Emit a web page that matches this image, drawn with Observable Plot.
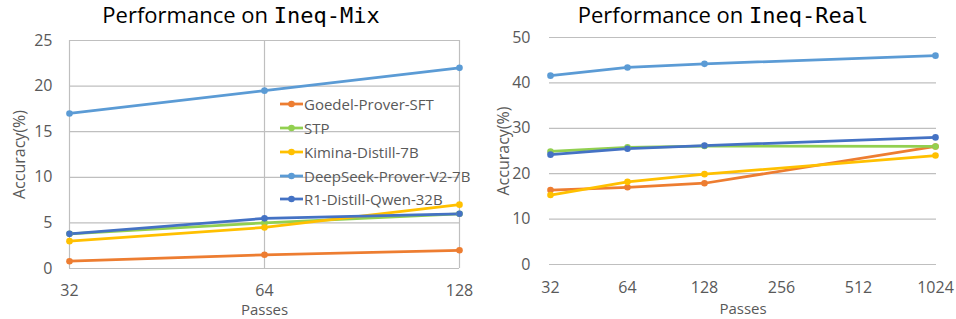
<!DOCTYPE html>
<html><head><meta charset="utf-8">
<script src="https://cdn.jsdelivr.net/npm/d3@7"></script>
<script src="https://cdn.jsdelivr.net/npm/@observablehq/plot@0.6"></script>
<style>
body{margin:0;background:#fff;font-family:"Open Sans",sans-serif;}
#wrap{position:relative;width:956px;height:319px;overflow:hidden;background:#fff}
.panel{position:absolute;top:0;height:319px}
.title{position:absolute;top:0;left:0;right:0;height:28px;line-height:28px;font-size:22px;color:#000;white-space:nowrap;text-align:center}
.mono{font-family:"DejaVu Sans Mono",monospace;font-size:22px}
.chart{position:absolute;top:20px;left:0;overflow:visible}
.legend{position:absolute;left:0;top:0;pointer-events:none}
.lrow{position:absolute;height:20px;display:flex;align-items:center;font-size:15px;color:#595959;white-space:nowrap}
.lrow svg{display:block;margin-right:1px}
</style>
</head><body>
<div id="wrap">
  <div class="panel" id="left" style="left:0;width:480px">
    <div class="title" style="padding-left:2px">Performance on <span class="mono">Ineq-Mix</span></div>
  </div>
  <div class="panel" id="right" style="left:480px;width:476px">
    <div class="title" style="padding-left:10px">Performance on <span class="mono">Ineq-Real</span></div>
  </div>
</div>
<script>
const models = ["Goedel-Prover-SFT","STP","Kimina-Distill-7B","DeepSeek-Prover-V2-7B","R1-Distill-Qwen-32B"];
const colors = ["#ED7D31","#92D050","#FFC000","#5B9BD5","#4472C4"];

// Ineq-Mix
const mixPasses = [32, 64, 128];
const mixYTicks = [0, 5, 10, 15, 20, 25];
const mixGoedel = [0.8, 1.5, 2.0];
const mixSTP = [3.8, 5.0, 6.0];
const mixKimina = [3.0, 4.5, 7.0];
const mixDeepSeek = [17.0, 19.5, 22.0];
const mixR1 = [3.8, 5.5, 6.0];

// Ineq-Real
const realTicks = ["32","64","128","256","512","1024"];
const realPasses = ["32","64","128","1024"];
const realYTicks = [0, 10, 20, 30, 40, 50];
const realGoedel = [16.4, 17.0, 17.9, 26.0];
const realSTP = [24.9, 25.8, 26.1, 26.0];
const realKimina = [15.3, 18.2, 19.9, 24.0];
const realDeepSeek = [41.6, 43.4, 44.2, 46.0];
const realR1 = [24.2, 25.5, 26.2, 28.0];

function rows(passes, series) {
  const out = [];
  series.forEach((vals, i) => vals.forEach((v, j) => out.push({model: models[i], passes: passes[j], acc: v})));
  return out;
}
const mixRows = rows(mixPasses, [mixGoedel, mixSTP, mixKimina, mixDeepSeek, mixR1]);
const realRows = rows(realPasses, [realGoedel, realSTP, realKimina, realDeepSeek, realR1]);

const grid = "#bfbfbf";
const txt = "#595959";

const left = Plot.plot({
  width: 480, height: 299,
  marginLeft: 69, marginRight: 21, marginTop: 20, marginBottom: 51,
  style: {fontFamily: "Open Sans, sans-serif", fontSize: "16px", color: txt, background: "transparent"},
  x: {type: "point", domain: mixPasses, padding: 0},
  y: {domain: [0, 25]},
  color: {domain: models, range: colors},
  marks: [
    Plot.ruleY(mixYTicks, {stroke: grid, strokeWidth: 1.2}),
    Plot.ruleX(mixPasses, {stroke: grid, strokeWidth: 1.2}),
    Plot.axisX({tickSize: 0, tickPadding: 16, label: null}),
    Plot.axisY({ticks: mixYTicks, tickSize: 0, tickPadding: 17, label: null}),
    Plot.line(mixRows, {x: "passes", y: "acc", z: "model", stroke: "model", strokeWidth: 2.75}),
    Plot.dot(mixRows, {x: "passes", y: "acc", fill: "model", r: 3.3}),
    Plot.text(["Passes"], {frameAnchor: "bottom", lineAnchor: "middle", textAnchor: "middle", dy: 42, fontSize: 15, fill: txt}),
    Plot.text(["Accuracy(%)"], {frameAnchor: "left", lineAnchor: "middle", textAnchor: "middle", dx: -50, rotate: -90, fontSize: 16, fill: txt})
  ]
});
document.querySelector("#left").appendChild(left).classList.add("chart");

const right = Plot.plot({
  width: 476, height: 299,
  marginLeft: 69, marginRight: 20, marginTop: 17, marginBottom: 55,
  style: {fontFamily: "Open Sans, sans-serif", fontSize: "16px", color: txt, background: "transparent"},
  x: {type: "point", domain: realTicks, padding: 0},
  y: {domain: [0, 50]},
  color: {domain: models, range: colors},
  marks: [
    Plot.ruleY(realYTicks, {stroke: grid, strokeWidth: 1.2}),
    Plot.axisX({tickSize: 0, tickPadding: 17, label: null}),
    Plot.axisY({ticks: realYTicks, tickSize: 0, tickPadding: 19, label: null}),
    Plot.line(realRows, {x: "passes", y: "acc", z: "model", stroke: "model", strokeWidth: 2.75}),
    Plot.dot(realRows, {x: "passes", y: "acc", fill: "model", r: 3.3}),
    Plot.text(["Passes"], {frameAnchor: "bottom", lineAnchor: "middle", textAnchor: "middle", dy: 45, fontSize: 15, fill: txt}),
    Plot.text(["Accuracy(%)"], {frameAnchor: "left", lineAnchor: "middle", textAnchor: "middle", dx: -46, rotate: -90, fontSize: 16, fill: txt})
  ]
});
document.querySelector("#right").appendChild(right).classList.add("chart");

// Legend inside the Ineq-Mix panel
const legendTops = [94, 118, 142, 166, 189];
const lg = document.createElement("div");
lg.className = "legend";
models.forEach((m, i) => {
  const row = document.createElement("div");
  row.className = "lrow";
  row.style.left = "280px";
  row.style.top = legendTops[i] + "px";
  row.innerHTML = `<svg width="23" height="10"><line x1="0" x2="23" y1="5" y2="5" stroke="${colors[i]}" stroke-width="2.75"/><circle cx="11.5" cy="5" r="3.3" fill="${colors[i]}"/></svg><span>${m}</span>`;
  lg.appendChild(row);
});
document.querySelector("#left").appendChild(lg);
</script>
</body></html>
